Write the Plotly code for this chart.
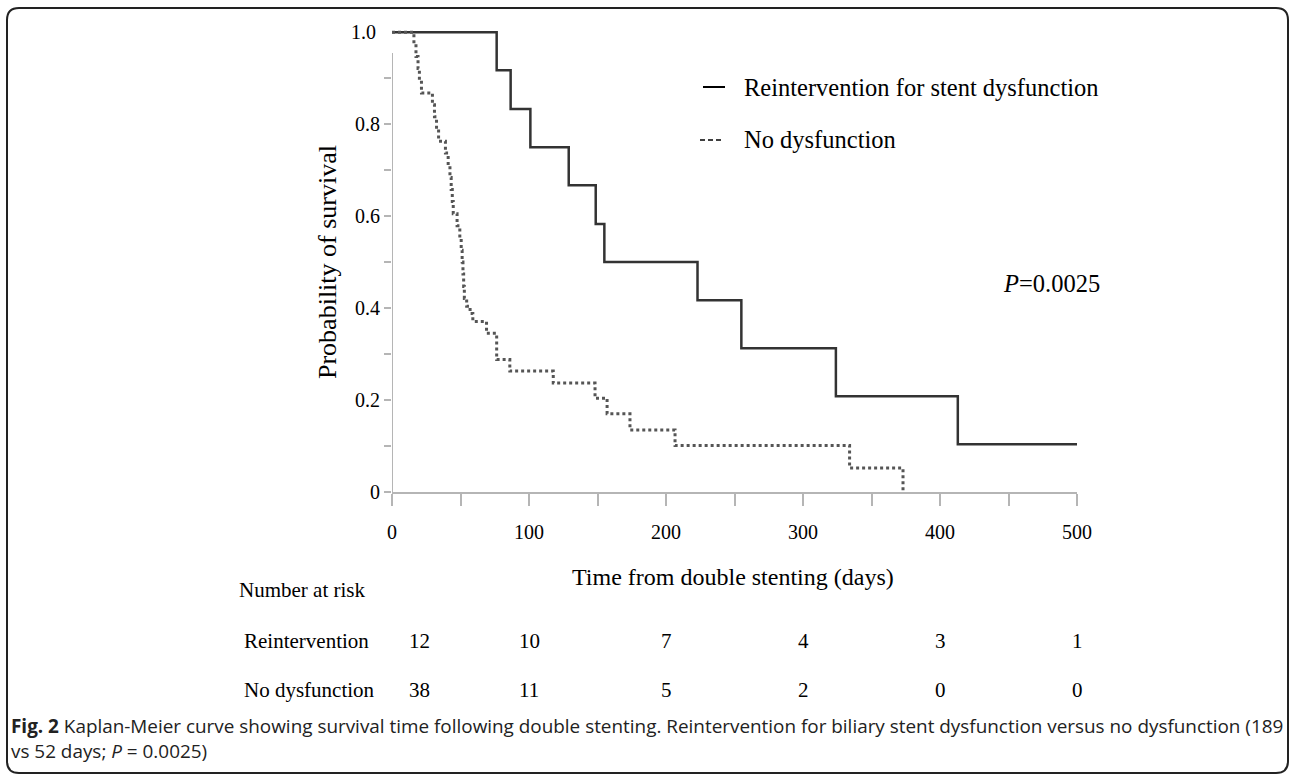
import plotly.graph_objects as go

# ---------------- data ----------------
reint_days = [0, 76.4, 86.6, 101, 129, 148.7, 155, 223, 255, 324, 413, 500]
reint_surv = [1.0, 0.917, 0.833, 0.750, 0.667, 0.583, 0.500, 0.417, 0.3125, 0.208, 0.104, 0.104]

nodys_days = [0, 16, 17.5, 19, 20, 21.5, 29.5, 31, 32.5, 34, 39, 41, 42.3, 43.2, 44, 44.7,
              47.5, 49.5, 50.5, 51.2, 51.8, 52.3, 52.8, 54.5, 57, 59, 69, 76.4, 86, 117.7,
              148.2, 157, 173.7, 206.6, 334, 373]
nodys_surv = [1.0, 0.974, 0.947, 0.921, 0.895, 0.868, 0.842, 0.816, 0.789, 0.763, 0.737, 0.711,
              0.684, 0.658, 0.632, 0.605, 0.579, 0.553, 0.526, 0.500, 0.474, 0.447, 0.421, 0.404,
              0.388, 0.371, 0.345, 0.288, 0.263, 0.237, 0.204, 0.170, 0.135, 0.101, 0.052, 0.0]

x_tick_vals = [0, 100, 200, 300, 400, 500]
y_tick_vals = [0, 0.1, 0.2, 0.3, 0.4, 0.5, 0.6, 0.7, 0.8, 0.9]
y_tick_text = ["0", "", "0.2", "", "0.4", "", "0.6", "", "0.8", ""]

risk_times = [0, 100, 200, 300, 400, 500]
risk_reint = [12, 10, 7, 4, 3, 1]
risk_nodys = [38, 11, 5, 2, 0, 0]

series_names = ["Reintervention for stent dysfunction", "No dysfunction"]
row_names = ["Reintervention", "No dysfunction"]
caption_text = ("<b>Fig. 2</b> Kaplan-Meier curve showing survival time following double stenting. "
                "Reintervention for biliary stent dysfunction versus no dysfunction (189"
                "<br>vs 52 days; <i>P</i> = 0.0025)")

# ---------------- layout geometry ----------------
W, H = 1292, 776
L, R, T, B = 392, 1077, 23, 492
SERIF = "Liberation Serif"


def px(x):
    return (x - L) / (R - L)


def py(y):
    return (B - y) / (B - T)


fig = go.Figure()
fig.add_trace(go.Scatter(x=reint_days, y=reint_surv, mode="lines", line_shape="hv",
                         line=dict(color="#333333", width=2.5), name=series_names[0],
                         showlegend=False))
fig.add_trace(go.Scatter(x=nodys_days, y=nodys_surv, mode="lines", line_shape="hv",
                         line=dict(color="#555555", width=3, dash="3px,3px"), name=series_names[1],
                         showlegend=False))

ann = []


def text(x, y, s, size=21, xanchor="left", font=SERIF, color="black", **kw):
    ann.append(dict(x=px(x), y=py(y), xref="paper", yref="paper", text=s, showarrow=False,
                    xanchor=xanchor, yanchor="middle", font=dict(family=font, size=size, color=color),
                    **kw))


# y-axis "1.0" label (axis line in reference stops below 1.0)
ann.append(dict(x=0, y=1.0, xref="paper", yref="y", text="1.0", showarrow=False, xanchor="right",
                yanchor="middle", xshift=-14, font=dict(family=SERIF, size=20, color="black")))

# axis titles
text(327, 262, "Probability of survival", size=26, xanchor="center", textangle=-90)
text(733, 577, "Time from double stenting (days)", size=24, xanchor="center")

# legend (text-style)
text(742, 87, series_names[0], size=24.5)
text(742, 139, series_names[1], size=24.5)

# P value
text(1001, 283, "<i>P</i>=0.0025", size=24.5)

# number at risk table
text(237, 590, "Number at risk", size=21)
text(242, 641, row_names[0], size=21)
text(242, 690, row_names[1], size=21)
for i, (t, a, b) in enumerate(zip(risk_times, risk_reint, risk_nodys)):
    shift = 27 if i == 0 else 0
    ann.append(dict(x=t, y=py(641), xref="x", yref="paper", text=str(a), showarrow=False,
                    xanchor="center", yanchor="middle", xshift=shift,
                    font=dict(family=SERIF, size=21, color="black")))
    ann.append(dict(x=t, y=py(690), xref="x", yref="paper", text=str(b), showarrow=False,
                    xanchor="center", yanchor="middle", xshift=shift,
                    font=dict(family=SERIF, size=21, color="black")))

# caption (two lines in one block)
text(9, 739, caption_text, size=18.9, font="Open Sans", color="#222222", align="left")

shapes = []
# y axis line
shapes.append(dict(type="line", xref="x", yref="y", x0=0, x1=0, y0=0, y1=0.955,
                   line=dict(color="#b5b5b5", width=2)))
# legend line samples
shapes.append(dict(type="line", xref="paper", yref="paper", x0=px(703), x1=px(725), y0=py(87), y1=py(87),
                   line=dict(color="black", width=2)))
shapes.append(dict(type="line", xref="paper", yref="paper", x0=px(700), x1=px(723), y0=py(140), y1=py(140),
                   line=dict(color="black", width=1.5, dash="5px,3px")))
# rounded border
r = 12
x0b, x1b, y0b, y1b = 7, 1288, 8, 773
path = (f"M {px(x0b + r)},{py(y0b)} L {px(x1b - r)},{py(y0b)} "
        f"Q {px(x1b)},{py(y0b)} {px(x1b)},{py(y0b + r)} "
        f"L {px(x1b)},{py(y1b - r)} Q {px(x1b)},{py(y1b)} {px(x1b - r)},{py(y1b)} "
        f"L {px(x0b + r)},{py(y1b)} Q {px(x0b)},{py(y1b)} {px(x0b)},{py(y1b - r)} "
        f"L {px(x0b)},{py(y0b + r)} Q {px(x0b)},{py(y0b)} {px(x0b + r)},{py(y0b)} Z")
shapes.append(dict(type="path", xref="paper", yref="paper", path=path,
                   line=dict(color="#222222", width=2)))

fig.update_layout(
    width=W, height=H,
    margin=dict(l=L, r=W - R, t=T, b=H - B, pad=0),
    plot_bgcolor="white", paper_bgcolor="white",
    annotations=ann, shapes=shapes,
    showlegend=False,
    xaxis=dict(range=[0, 500], tickvals=x_tick_vals, ticks="outside", ticklen=12, tickwidth=1.5,
               tickcolor="#b5b5b5", showline=True, linecolor="#b5b5b5", linewidth=2,
               showgrid=False, zeroline=False, ticklabelstandoff=9,
               minor=dict(dtick=50, tick0=0, ticks="outside", ticklen=12, tickwidth=1.5,
                          tickcolor="#b5b5b5", showgrid=False),
               tickfont=dict(family=SERIF, size=20, color="black")),
    yaxis=dict(range=[0, 1.02], tickvals=y_tick_vals, ticktext=y_tick_text, ticks="outside",
               ticklen=7, tickwidth=1.5, tickcolor="#b5b5b5", showline=False,
               showgrid=False, zeroline=False, ticklabelstandoff=0,
               tickfont=dict(family=SERIF, size=20, color="black")),
)

fig.write_html("out.html", config={"displayModeBar": False},
               post_script="document.body.style.margin='0';document.body.style.overflow='hidden';")
